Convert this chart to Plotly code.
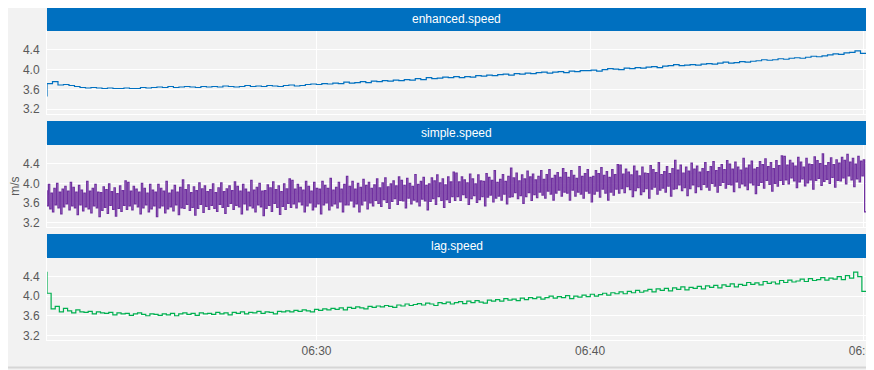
import pandas as pd
import plotly.graph_objects as go

# ---------------- data ----------------
t_start = "2024-05-01 06:20:09"
t_end = "2024-05-01 06:50:05"

enhanced_speed = [
    3.46, 3.72, 3.76, 3.69, 3.70, 3.68, 3.66, 3.64, 3.63, 3.64,
    3.63, 3.62, 3.63, 3.62, 3.62, 3.63, 3.62, 3.62, 3.64, 3.63,
    3.64, 3.65, 3.64, 3.66, 3.64, 3.65, 3.66, 3.65, 3.64, 3.66,
    3.65, 3.66, 3.65, 3.67, 3.66, 3.65, 3.66, 3.68, 3.66, 3.67,
    3.66, 3.68, 3.67, 3.66, 3.68, 3.69, 3.67, 3.68, 3.70, 3.71,
    3.70, 3.72, 3.71, 3.73, 3.72, 3.75, 3.73, 3.74, 3.76, 3.74,
    3.77, 3.76, 3.78, 3.77, 3.79, 3.78, 3.80, 3.79, 3.82, 3.80,
    3.84, 3.82, 3.83, 3.85, 3.84, 3.86, 3.84, 3.86, 3.85, 3.88,
    3.87, 3.89, 3.88, 3.90, 3.91, 3.89, 3.92, 3.91, 3.93, 3.92,
    3.94, 3.95, 3.93, 3.95, 3.96, 3.94, 3.97, 3.96, 3.98, 3.98,
    3.99, 3.97, 4.00, 4.02, 4.01, 4.00, 4.03, 4.02, 4.04, 4.03,
    4.05, 4.06, 4.04, 4.07, 4.08, 4.10, 4.08, 4.09, 4.10, 4.09,
    4.11, 4.12, 4.11, 4.13, 4.15, 4.13, 4.14, 4.16, 4.15, 4.17,
    4.18, 4.20, 4.19, 4.20, 4.22, 4.21, 4.23, 4.24, 4.23, 4.25,
    4.27, 4.26, 4.28, 4.30, 4.32, 4.31, 4.34, 4.35, 4.38, 4.33,
]

simple_speed = [
    3.86, 3.54, 3.98, 3.48, 3.80, 3.42, 3.90, 3.56, 4.00, 3.50, 3.82, 3.38, 3.88, 3.52, 3.94, 3.58, 3.84, 3.46, 4.02, 3.54,
    3.92, 3.50, 3.82, 3.36, 3.96, 3.56, 3.86, 3.44, 3.80, 3.52, 4.04, 3.48, 3.84, 3.40, 3.90, 3.54, 3.98, 3.50, 3.82, 3.32,
    3.81, 3.45, 3.93, 3.51, 3.87, 3.39, 3.99, 3.55, 3.83, 3.47, 3.91, 3.33, 3.79, 3.49, 3.95, 3.43, 3.85, 3.55, 4.05, 3.47,
    4.02, 3.54, 3.84, 3.46, 3.94, 3.58, 3.88, 3.52, 3.82, 3.38, 4.00, 3.50, 3.90, 3.56, 3.80, 3.42, 3.98, 3.48, 3.86, 3.54,
    3.82, 3.32, 3.98, 3.50, 3.90, 3.54, 3.84, 3.40, 4.04, 3.48, 3.80, 3.52, 3.86, 3.44, 3.96, 3.56, 3.82, 3.36, 3.92, 3.50,
    4.07, 3.49, 3.87, 3.57, 3.97, 3.45, 3.81, 3.51, 3.93, 3.35, 3.85, 3.49, 4.01, 3.57, 3.89, 3.41, 3.95, 3.53, 3.83, 3.47,
    3.87, 3.55, 3.99, 3.49, 3.81, 3.43, 3.91, 3.57, 4.01, 3.51, 3.83, 3.39, 3.89, 3.53, 3.95, 3.59, 3.85, 3.47, 4.03, 3.55,
    3.94, 3.52, 3.84, 3.38, 3.98, 3.58, 3.88, 3.46, 3.82, 3.54, 4.06, 3.50, 3.86, 3.42, 3.92, 3.56, 4.00, 3.52, 3.84, 3.34,
    3.85, 3.49, 3.97, 3.55, 3.91, 3.43, 4.03, 3.59, 3.87, 3.51, 3.95, 3.37, 3.83, 3.53, 3.99, 3.47, 3.89, 3.59, 4.09, 3.51,
    4.06, 3.58, 3.88, 3.50, 3.98, 3.62, 3.92, 3.56, 3.86, 3.42, 4.04, 3.54, 3.94, 3.60, 3.84, 3.46, 4.02, 3.52, 3.90, 3.58,
    3.88, 3.38, 4.04, 3.56, 3.96, 3.60, 3.90, 3.46, 4.10, 3.54, 3.86, 3.58, 3.92, 3.50, 4.02, 3.62, 3.88, 3.42, 3.98, 3.56,
    4.14, 3.56, 3.94, 3.64, 4.04, 3.52, 3.88, 3.58, 4.00, 3.42, 3.92, 3.56, 4.08, 3.64, 3.96, 3.48, 4.02, 3.60, 3.90, 3.54,
    3.97, 3.65, 4.09, 3.59, 3.91, 3.53, 4.01, 3.67, 4.11, 3.61, 3.93, 3.49, 3.99, 3.63, 4.05, 3.69, 3.95, 3.57, 4.13, 3.65,
    4.06, 3.64, 3.96, 3.50, 4.10, 3.70, 4.00, 3.58, 3.94, 3.66, 4.18, 3.62, 3.98, 3.54, 4.04, 3.68, 4.12, 3.64, 3.96, 3.46,
    3.99, 3.63, 4.11, 3.69, 4.05, 3.57, 4.17, 3.73, 4.01, 3.65, 4.09, 3.51, 3.97, 3.67, 4.13, 3.61, 4.03, 3.73, 4.23, 3.65,
    4.21, 3.73, 4.03, 3.65, 4.13, 3.77, 4.07, 3.71, 4.01, 3.57, 4.19, 3.69, 4.09, 3.75, 3.99, 3.61, 4.17, 3.67, 4.05, 3.73,
    4.04, 3.54, 4.20, 3.72, 4.12, 3.76, 4.06, 3.62, 4.26, 3.70, 4.02, 3.74, 4.08, 3.66, 4.18, 3.78, 4.04, 3.58, 4.14, 3.72,
    4.31, 3.73, 4.11, 3.81, 4.21, 3.69, 4.05, 3.75, 4.17, 3.59, 4.09, 3.73, 4.25, 3.81, 4.13, 3.65, 4.19, 3.77, 4.07, 3.71,
    4.14, 3.82, 4.26, 3.76, 4.08, 3.70, 4.18, 3.84, 4.28, 3.78, 4.10, 3.66, 4.16, 3.80, 4.22, 3.86, 4.12, 3.74, 4.30, 3.82,
    4.22, 3.80, 4.12, 3.66, 4.26, 3.86, 4.16, 3.74, 4.10, 3.82, 4.34, 3.78, 4.14, 3.70, 4.20, 3.84, 4.28, 3.80, 4.12, 3.62,
    4.14, 3.78, 4.26, 3.84, 4.20, 3.72, 4.32, 3.88, 4.16, 3.80, 4.24, 3.66, 4.12, 3.82, 4.28, 3.76, 4.18, 3.88, 4.38, 3.80,
    4.37, 3.89, 4.19, 3.81, 4.29, 3.93, 4.23, 3.87, 4.17, 3.73, 4.35, 3.85, 4.25, 3.91, 4.15, 3.77, 4.33, 3.83, 4.21, 3.89,
    4.20, 3.70, 4.36, 3.88, 4.28, 3.92, 4.22, 3.78, 4.42, 3.86, 4.18, 3.90, 4.24, 3.82, 4.34, 3.94, 4.20, 3.74, 4.30, 3.88,
    4.47, 3.89, 4.27, 3.97, 4.37, 3.85, 4.21, 3.91, 4.33, 3.75, 4.25, 3.89, 4.41, 3.97, 4.29, 3.81, 4.35, 3.93, 4.23, 3.87,
    4.30, 3.98, 4.42, 3.92, 4.24, 3.86, 4.34, 4.00, 4.44, 3.94, 4.26, 3.82, 4.32, 3.96, 4.38, 4.02, 4.28, 3.90, 4.46, 3.98,
    4.39, 3.97, 4.29, 3.83, 4.43, 4.03, 4.33, 3.91, 4.27, 3.99, 4.51, 3.95, 4.31, 3.87, 4.37, 4.01, 4.45, 3.97, 4.29, 3.79,
    4.32, 3.96, 4.44, 4.02, 4.38, 3.90, 4.50, 4.06, 4.34, 3.98, 4.42, 3.84, 4.30, 4.00, 4.46, 3.94, 4.36, 4.06, 4.56, 3.98,
    4.55, 4.07, 4.37, 3.99, 4.47, 4.11, 4.41, 4.05, 4.35, 3.91, 4.53, 4.03, 4.43, 4.09, 4.33, 3.95, 4.51, 4.01, 4.39, 4.07,
    4.38, 3.88, 4.54, 4.06, 4.46, 4.10, 4.40, 3.96, 4.60, 4.04, 4.36, 4.08, 4.42, 4.00, 4.52, 4.12, 4.38, 3.92, 4.48, 4.06,
    4.41, 4.05, 4.53, 4.11, 4.47, 3.99, 4.59, 4.15, 4.43, 4.07, 4.51, 3.93, 4.39, 4.09, 4.55, 4.03, 4.45, 4.15, 4.48, 3.42,
]

lag_speed = [
    4.50, 4.06, 3.74, 3.79, 3.68, 3.75, 3.70, 3.66, 3.72, 3.68,
    3.67, 3.69, 3.64, 3.68, 3.66, 3.65, 3.67, 3.62, 3.66, 3.64,
    3.65, 3.61, 3.64, 3.66, 3.63, 3.60, 3.64, 3.63, 3.61, 3.64,
    3.62, 3.65, 3.60, 3.64, 3.66, 3.63, 3.65, 3.61, 3.66, 3.64,
    3.65, 3.63, 3.67, 3.64, 3.66, 3.62, 3.67, 3.65, 3.68, 3.64,
    3.67, 3.66, 3.69, 3.65, 3.68, 3.67, 3.64, 3.69, 3.68, 3.70,
    3.68, 3.71, 3.69, 3.72, 3.70, 3.68, 3.73, 3.71, 3.74, 3.72,
    3.75, 3.73, 3.76, 3.72, 3.77, 3.75, 3.78, 3.76, 3.74, 3.79,
    3.77, 3.80, 3.78, 3.81, 3.79, 3.77, 3.82, 3.80, 3.84, 3.81,
    3.83, 3.85, 3.82, 3.86, 3.84, 3.81, 3.87, 3.85, 3.88, 3.84,
    3.87, 3.89, 3.85, 3.90, 3.87, 3.91, 3.88, 3.86, 3.92, 3.90,
    3.93, 3.90, 3.95, 3.92, 3.94, 3.91, 3.96, 3.93, 3.97, 3.95,
    3.98, 3.94, 3.97, 4.00, 3.96, 3.99, 3.97, 4.01, 3.95, 4.00,
    3.98, 4.02, 3.99, 4.04, 4.00, 4.03, 4.06, 4.02, 4.07, 4.05,
    4.09, 4.05, 4.10, 4.07, 4.12, 4.08, 4.11, 4.14, 4.09, 4.15,
    4.12, 4.16, 4.11, 4.17, 4.14, 4.19, 4.13, 4.18, 4.16, 4.20,
    4.15, 4.21, 4.18, 4.22, 4.17, 4.23, 4.20, 4.25, 4.19, 4.24,
    4.22, 4.28, 4.24, 4.27, 4.23, 4.30, 4.26, 4.29, 4.25, 4.32,
    4.28, 4.33, 4.29, 4.31, 4.35, 4.30, 4.36, 4.32, 4.34, 4.38,
    4.33, 4.37, 4.35, 4.40, 4.34, 4.42, 4.37, 4.49, 4.40, 4.10,
]

panel_titles = ["enhanced.speed", "simple.speed", "lag.speed"]
y_ticks = [3.2, 3.6, 4.0, 4.4]
y_unit = "m/s"

# ---------------- figure ----------------
t_enh = pd.date_range(t_start, t_end, periods=len(enhanced_speed))
t_sim = pd.date_range(t_start, t_end, periods=len(simple_speed))
t_lag = pd.date_range(t_start, t_end, periods=len(lag_speed))

BG = "#f2f2f2"
HEADER = "#0070c0"
TXT = "#595959"
FONT = "Liberation Sans, Arial, sans-serif"

fig = go.Figure()
fig.add_trace(go.Scatter(x=t_enh, y=enhanced_speed, mode="lines", xaxis="x", yaxis="y",
                         line=dict(color="#0070c0", width=1.2, shape="vh"), showlegend=False))
fig.add_trace(go.Scatter(x=t_sim, y=simple_speed, mode="lines", xaxis="x2", yaxis="y2",
                         line=dict(color="#7030a0", width=1.2, shape="vh", simplify=False),
                         showlegend=False))
fig.add_trace(go.Scatter(x=t_lag, y=lag_speed, mode="lines", xaxis="x3", yaxis="y3",
                         line=dict(color="#00b050", width=1.2, shape="vh", simplify=False),
                         showlegend=False))

# page offsets (the page body adds an 8 px margin around the figure)
H = 332.0
def py(pix):
    return (340.0 - pix) / H

plot_domains = [[py(114), py(31)], [py(227.3), py(145)], [0, py(258)]]
header_domains = [[py(31), 1.0], [py(145), py(121)], [py(258), py(234)]]

xr = [t_start, t_end]
common_x = dict(range=xr, type="date", showgrid=True, gridcolor="white", gridwidth=1,
                dtick=600000, tick0="2024-05-01 06:00:00", tickformat="%H:%M",
                showline=True, linecolor="white", linewidth=1, mirror=True, zeroline=False,
                automargin=False, ticklabeloverflow="allow",
                tickfont=dict(color=TXT, size=12, family=FONT), ticks="")
common_y = dict(range=[3.105, 4.78], tickvals=y_ticks, ticktext=["3.2", "3.6", "4.0", "4.4"],
                showgrid=True, gridcolor="white", gridwidth=1, automargin=False,
                showline=True, linecolor="white", linewidth=1, mirror=True, zeroline=False,
                ticks="outside", ticklen=4, tickcolor="rgba(0,0,0,0)",
                tickfont=dict(color=TXT, size=12, family=FONT))

fig.update_layout(
    width=866, height=362,
    margin=dict(l=39, r=8, t=0, b=30),
    paper_bgcolor=BG, plot_bgcolor=BG,
    font=dict(family=FONT, color=TXT, size=12),
    xaxis=dict(common_x, anchor="y", showticklabels=False, matches="x3"),
    xaxis2=dict(common_x, anchor="y2", showticklabels=False, matches="x3"),
    xaxis3=dict(common_x, anchor="y3", showticklabels=True),
    yaxis=dict(common_y, domain=plot_domains[0], anchor="x"),
    yaxis2=dict(common_y, domain=plot_domains[1], anchor="x2",
                title=dict(text=y_unit, standoff=2, font=dict(size=12, color=TXT, family=FONT))),
    yaxis3=dict(common_y, domain=plot_domains[2], anchor="x3"),
)

shapes = []
annotations = []
for title, (y0, y1) in zip(panel_titles, header_domains):
    shapes.append(dict(type="rect", xref="paper", yref="paper", x0=0, x1=1, y0=y0, y1=y1,
                       fillcolor=HEADER, line=dict(width=0), layer="above"))
    annotations.append(dict(text=title, xref="paper", yref="paper", x=0.5, y=(y0 + y1) / 2,
                            showarrow=False, xanchor="center", yanchor="middle",
                            font=dict(color="white", size=12, family=FONT)))
shapes.append(dict(type="line", xref="paper", yref="paper", x0=-47 / 819, x1=1 + 8 / 819,
                   y0=py(367.5), y1=py(367.5), line=dict(color="#d6d6d6", width=2)))
fig.update_layout(shapes=shapes, annotations=annotations)

fig.write_html("out.html")
